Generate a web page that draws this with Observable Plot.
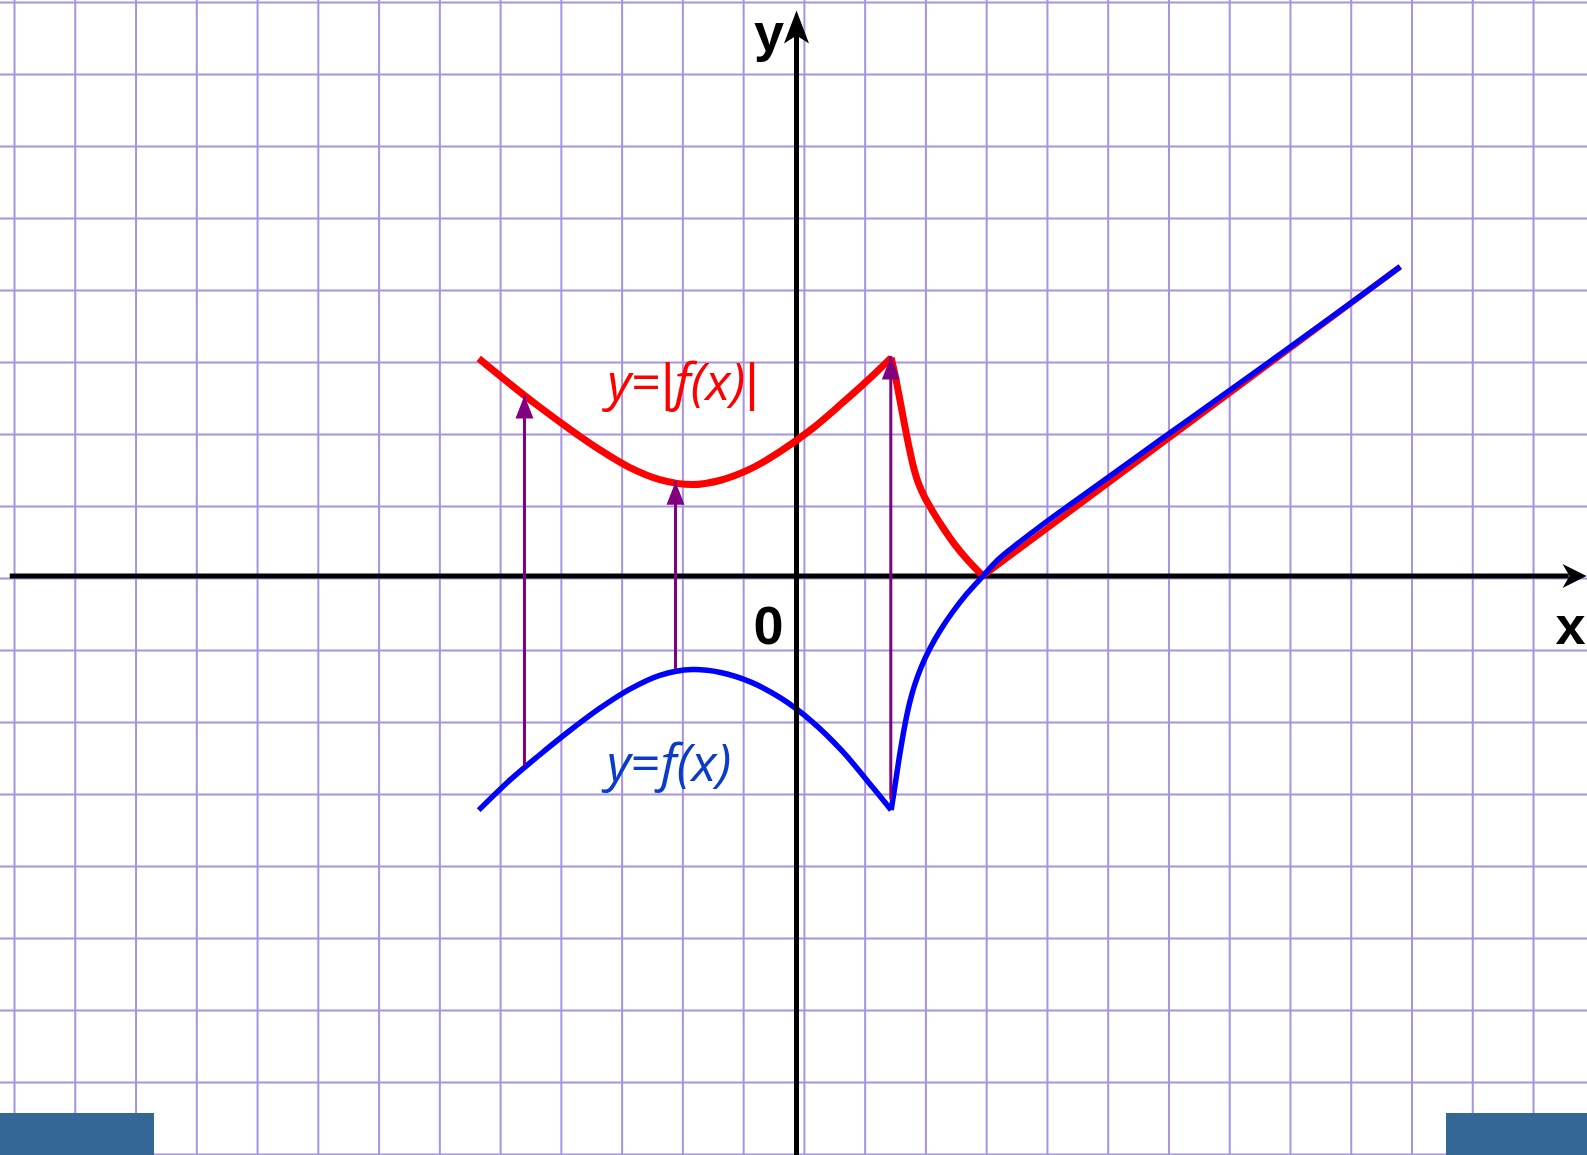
<!DOCTYPE html>
<html>
<head>
<meta charset="utf-8">
<script src="https://cdn.jsdelivr.net/npm/d3@7"></script>
<script src="https://cdn.jsdelivr.net/npm/@observablehq/plot@0.6"></script>
<style>
  html, body { margin: 0; padding: 0; background: #ffffff; }
  #wrap { position: relative; width: 1587px; height: 1155px; overflow: hidden; }
  .navbox { position: absolute; bottom: 0; height: 42px; background: #346796; }
</style>
</head>
<body>
<div id="wrap"></div>
<script>
// ---------------- data (graph units: one grid cell = 1) ----------------
// y = f(x), left branch up to the corner
const fLeftX  = [-5.23, -4.75, -4.25, -3.75, -3.25, -2.75, -2.25, -1.72, -1.25, -0.75, -0.25, 0.25, 0.75, 1.25, 1.558];
const fLeftY  = [-3.252, -2.86, -2.50, -2.16, -1.845, -1.575, -1.38, -1.30, -1.34, -1.474, -1.70, -2.018, -2.429, -2.932, -3.252];
// y = f(x), right branch from the corner through the root
const fRightX = [1.558, 1.605, 1.65, 1.695, 1.745, 1.80, 1.865, 1.95, 2.06, 2.20, 2.37, 2.57, 2.80, 3.07, 3.307, 3.557, 4.0, 4.5, 5.0, 6.0, 7.0, 8.0, 9.0, 9.936];
const fRightY = [-3.252, -3.0, -2.75, -2.5, -2.25, -2.0, -1.75, -1.5, -1.25, -1.0, -0.75, -0.5, -0.25, 0, 0.218, 0.395, 0.682, 0.99, 1.293, 1.898, 2.499, 3.105, 3.715, 4.296];
// y = |f(x)|, three pieces
const gLeftX  = [-5.23, -4.75, -4.25, -3.75, -3.25, -2.75, -2.25, -1.72, -1.25, -0.75, -0.25, 0.25, 0.75, 1.25, 1.558];
const gLeftY  = [3.02, 2.69, 2.36, 2.05, 1.76, 1.51, 1.34, 1.27, 1.33, 1.49, 1.74, 2.04, 2.40, 2.78, 3.031];
const gMidX   = [1.558, 1.62, 1.69, 1.77, 1.85, 1.93, 2.01, 2.10, 2.24, 2.42, 2.62, 2.84, 3.07];
const gMidY   = [3.031, 2.80, 2.50, 2.14, 1.80, 1.50, 1.28, 1.11, 0.90, 0.66, 0.42, 0.20, 0];
const gRightX = [3.07, 9.936];
const gRightY = [0, 4.296];
// purple reflection arrows
const arrowX    = [-4.477, -1.991, 1.552];
const arrowFrom = [-2.64, -1.30, -3.11];
const arrowTo   = [2.507, 1.31, 3.05];
// labels
const curveLabelText = ["y=|f(x)|", "y=f(x)"];
const curveLabelX    = [-1.868, -2.098];
const curveLabelY    = [2.68, -2.61];
const axisLabelText  = ["y", "x", "0"];
const axisLabelX     = [-0.453, 12.739, -0.461];
const axisLabelY     = [7.525, -0.702, -0.711];

// ---------------- layout ----------------
const W = 1587, H = 1155;
const XU = 60.76, YU = 72, OX = 796, OY = 575.5;
const xDomain = [-OX / XU, (W - OX) / XU];
const yDomain = [(OY - H) / YU, OY / YU];
const GRID = "#a693e3";
const RED = "#ff0000", BLUE = "#0000ff", PURPLE = "#800080";

const toRows = (xs, ys) => xs.map((x, i) => ({x, y: ys[i]}));
const fLeft = toRows(fLeftX, fLeftY);
const fRight = toRows(fRightX, fRightY);
const gLeft = toRows(gLeftX, gLeftY);
const gMid = toRows(gMidX, gMidY);
const gRight = toRows(gRightX, gRightY);
const arrows = arrowX.map((x, i) => ({x, from: arrowFrom[i], to: arrowTo[i]}));
const curveLabels = curveLabelText.map((t, i) => ({t, x: curveLabelX[i], y: curveLabelY[i], c: i === 0 ? RED : "#0a3cc8"}));
const axisLabels = axisLabelText.map((t, i) => ({t, x: axisLabelX[i], y: axisLabelY[i]}));

const gridX = d3.range(-13, 14).map(k => k + 0.13).filter(v => v > xDomain[0] && v < xDomain[1]);
const gridY = d3.range(-8, 9).map(k => k - 0.035).filter(v => v > yDomain[0] && v < yDomain[1]);

// custom arrowhead symbols (tip at the anchor point)
const triHead = {draw(c) { c.moveTo(0, 0); c.lineTo(-9, 23); c.lineTo(9, 23); c.closePath(); }};
const xHead = {draw(c) { c.moveTo(0, 0); c.lineTo(-24, -12); c.lineTo(-17, 0); c.lineTo(-24, 12); c.closePath(); }};
const yHead = {draw(c) { c.moveTo(0, 0); c.lineTo(-12.5, 33); c.lineTo(0, 25); c.lineTo(12.5, 33); c.closePath(); }};

const lineOpts = (stroke, w) => ({x: "x", y: "y", stroke, strokeWidth: w, curve: "catmull-rom", strokeLinecap: "butt", strokeLinejoin: "round"});

const svg = Plot.plot({
  width: W,
  height: H,
  margin: 0,
  x: {domain: xDomain, axis: null},
  y: {domain: yDomain, axis: null},
  style: {background: "#ffffff", overflow: "visible"},
  marks: [
    Plot.ruleX(gridX, {stroke: GRID, strokeWidth: 2}),
    Plot.ruleY(gridY, {stroke: GRID, strokeWidth: 2}),
    Plot.line(fLeft, lineOpts(BLUE, 5.5)),
    // axes
    Plot.ruleY([0], {x1: xDomain[0] + 0.16, x2: xDomain[1] - 0.3, stroke: "black", strokeWidth: 5}),
    Plot.ruleX([0], {y1: yDomain[0], y2: yDomain[1] - 0.4, stroke: "black", strokeWidth: 5}),
    Plot.dot([0], {x: () => xDomain[1] - 0.016, y: () => 0, symbol: xHead, fill: "black", stroke: "none"}),
    Plot.dot([0], {x: () => 0, y: () => yDomain[1] - 0.14, symbol: yHead, fill: "black", stroke: "none"}),
    // |f(x)|
    Plot.line(gLeft, lineOpts(RED, 7)),
    Plot.line(gMid, lineOpts(RED, 7)),
    Plot.line(gRight, lineOpts(RED, 6)),
    // f(x) right branch
    Plot.line(fRight, lineOpts(BLUE, 5.5)),
    // reflection arrows
    Plot.ruleX(arrows, {x: "x", y1: "from", y2: "to", stroke: PURPLE, strokeWidth: 3}),
    Plot.dot(arrows, {x: "x", y: "to", symbol: triHead, fill: PURPLE, stroke: "none"}),
    // labels
    Plot.text(curveLabels, {x: "x", y: "y", text: "t", fill: "c", fontSize: 52, fontFamily: "Open Sans", textAnchor: "middle", lineAnchor: "middle"}),
    Plot.text(axisLabels, {x: "x", y: "y", text: "t", fill: "black", fontSize: 54, fontWeight: "bold", fontFamily: "Liberation Sans", textAnchor: "middle", lineAnchor: "middle"})
  ]
});

// italic math pieces inside the curve labels; the bars use a narrow upright face
const parts = {
  "y=|f(x)|": [["y", true, false], ["=", false, false], ["|", false, true], ["f(x)", true, false], ["|", false, true]],
  "y=f(x)": [["y", true, false], ["=", false, false], ["f(x)", true, false]]
};
d3.select(svg).selectAll("text").each(function() {
  const p = parts[this.textContent];
  if (!p) return;
  const sel = d3.select(this);
  sel.text(null);
  p.forEach(([t, it, bar]) => {
    const ts = sel.append("tspan").attr("font-style", it ? "italic" : "normal").text(t);
    if (bar) ts.attr("font-family", "Liberation Sans");
  });
});

const wrap = document.getElementById("wrap");
wrap.appendChild(svg);
const left = document.createElement("div");
left.className = "navbox"; left.style.left = "0px"; left.style.width = "154px";
const right = document.createElement("div");
right.className = "navbox"; right.style.right = "0px"; right.style.width = "141px";
wrap.appendChild(left);
wrap.appendChild(right);
</script>
</body>
</html>
